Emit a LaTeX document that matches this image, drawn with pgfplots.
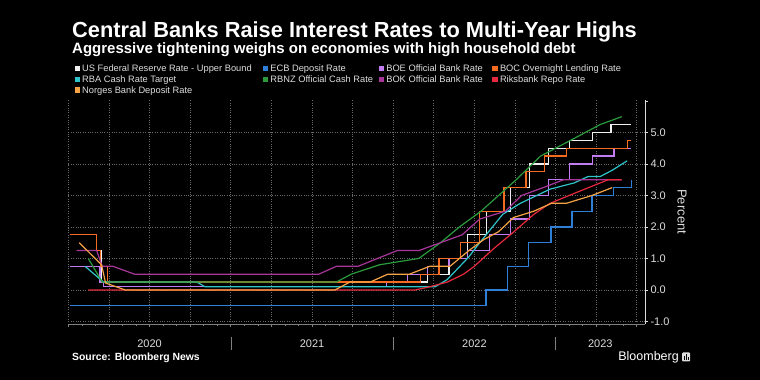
\documentclass[border=0pt]{standalone}
\usepackage{pgfplots}
\pgfplotsset{compat=1.18}
\usepackage{fontspec}
\setmainfont{Liberation Sans}
\definecolor{cfed}{HTML}{F0F0F0}
\definecolor{cecb}{HTML}{2F7ED8}
\definecolor{cboe}{HTML}{C07CF0}
\definecolor{cboc}{HTML}{F26B21}
\definecolor{crba}{HTML}{2EC4C9}
\definecolor{crbnz}{HTML}{2A9A3C}
\definecolor{cbok}{HTML}{A8369A}
\definecolor{crik}{HTML}{E8283C}
\definecolor{cnor}{HTML}{F5A445}
\definecolor{gridc}{HTML}{6A6A6A}
\definecolor{txt}{HTML}{DDDDDD}
\begin{document}
\begin{tikzpicture}[x=1pt,y=1pt]
\fill[black] (0,0) rectangle (760,380);
% titles
\node[anchor=base west, inner sep=0, text=white, font=\fontsize{21.8}{24}\selectfont\bfseries] at (72,342) {Central Banks Raise Interest Rates to Multi-Year Highs};
\node[anchor=base west, inner sep=0, text=white, font=\fontsize{15}{17}\selectfont\bfseries] at (72,326.8) {Aggressive tightening weighs on economies with high household debt};
% legend
\def\legrow#1#2#3#4{%
  \fill[#3] (#1,#2-2.65+3.3) rectangle ++(5.3,5.3);
  \node[anchor=base west, inner sep=0, text=txt, font=\fontsize{9.3}{11}\selectfont] at (#1+7.5,#2) {#4};}
\legrow{74.5}{308.2}{cfed}{US Federal Reserve Rate - Upper Bound}
\legrow{262.7}{308.2}{cecb}{ECB Deposit Rate}
\legrow{378.6}{308.2}{cboe}{BOE Official Bank Rate}
\legrow{492.3}{308.2}{cboc}{BOC Overnight Lending Rate}
\legrow{74.5}{297.5}{crba}{RBA Cash Rate Target}
\legrow{262.7}{297.5}{crbnz}{RBNZ Official Cash Rate}
\legrow{378.6}{297.5}{cbok}{BOK Official Bank Rate}
\legrow{492.3}{297.5}{crik}{Riksbank Repo Rate}
\legrow{74.5}{286.8}{cnor}{Norges Bank Deposit Rate}
\begin{axis}[
  at={(68.4pt,56pt)}, anchor=south west,
  scale only axis, width=576.6pt, height=224pt,
  xmin=0, xmax=42.62, ymin=-1.08, ymax=6.03,
  axis x line*=bottom, axis y line*=right,
  x axis line style={color=gray, line width=0.7pt, -},
  y axis line style={color=txt, line width=0.7pt, -},
  xtick={0,3,...,42}, minor xtick={0,1,...,42}, xticklabels={},
  ytick={-1,0,...,5}, yticklabels={-1.0,0.0,1.0,2.0,3.0,4.0,5.0},
  extra y ticks={6}, extra y tick labels={}, extra tick style={grid=none},
  tick align=outside, major tick length=3pt, minor tick length=2.5pt,
  xtick style={color=gray, line width=0.6pt},
  minor x tick style={color=gray, line width=0.6pt},
  ytick style={color=txt, line width=0.6pt},
  yticklabel style={font=\fontsize{11}{13}\selectfont, text=txt, xshift=-1pt},
  xmajorgrids, ymajorgrids,
  major grid style={gridc, dotted, line width=0.6pt},
  no markers,
  every axis plot/.append style={line width=1.2pt},
]
\addplot[color=cfed] coordinates {(0.1,1.75)(2.07,1.75)(2.07,1.25)(2.47,1.25)(2.47,0.25)(26.53,0.25)(26.53,0.5)(28.13,0.5)(28.13,1)(29.5,1)(29.5,1.75)(30.9,1.75)(30.9,2.5)(32.7,2.5)(32.7,3.25)(34.07,3.25)(34.07,4)(35.47,4)(35.47,4.5)(37.03,4.5)(37.03,4.75)(38.73,4.75)(38.73,5)(40.1,5)(40.1,5.25)(41.6,5.25)};
\addplot[color=cecb] coordinates {(0.1,-0.5)(30.87,-0.5)(30.87,0)(32.43,0)(32.43,0.75)(34.03,0.75)(34.03,1.5)(35.67,1.5)(35.67,2)(37.23,2)(37.23,2.5)(38.7,2.5)(38.7,3)(40.3,3)(40.3,3.25)(41.62,3.25)(41.62,3.5)};
\addplot[color=cboe] coordinates {(0.1,0.75)(2.33,0.75)(2.33,0.25)(2.6,0.25)(2.6,0.1)(23.5,0.1)(23.5,0.25)(25.07,0.25)(25.07,0.5)(26.53,0.5)(26.53,0.75)(28.13,0.75)(28.13,1)(29.5,1)(29.5,1.25)(31.1,1.25)(31.1,1.75)(32.7,1.75)(32.7,2.25)(34.07,2.25)(34.07,3)(35.47,3)(35.47,3.5)(37.03,3.5)(37.03,4)(38.73,4)(38.73,4.25)(40.33,4.25)(40.33,4.5)(41.6,4.5)};
\addplot[color=cboc] coordinates {(0.1,1.75)(2.1,1.75)(2.1,1.25)(2.4,1.25)(2.4,0.75)(2.87,0.75)(2.87,0.25)(26.03,0.25)(26.03,0.5)(27.4,0.5)(27.4,1)(29,1)(29,1.5)(30.4,1.5)(30.4,2.5)(32.2,2.5)(32.2,3.25)(33.83,3.25)(33.83,3.75)(35.2,3.75)(35.2,4.25)(36.8,4.25)(36.8,4.5)(41.3,4.5)(41.3,4.75)(41.6,4.75)};
\addplot[color=crba] coordinates {(1.23,0.75)(2.6,0.25)(9.5,0.25)(10.1,0.1)(27.1,0.1)(28,0.33)(29.6,1.05)(30.4,1.5)(32.1,2.4)(33.4,2.75)(35.6,3.2)(37.4,3.4)(38.4,3.6)(39.3,3.6)(40.2,3.8)(41.3,4.1)};
\addplot[color=crbnz] coordinates {(1.47,1)(2.5,0.25)(19.8,0.25)(20.9,0.5)(23,0.8)(25.9,1)(27.5,1.5)(28.9,2)(30.5,2.5)(31.8,3)(33.1,3.5)(34.9,4.25)(36.9,4.7)(39.3,5.25)(40.9,5.5)};
\addplot[color=cbok] coordinates {(0.61,1.25)(2.09,1.25)(2.5,0.75)(3.3,0.75)(4.9,0.5)(18.5,0.5)(19.8,0.75)(21.4,0.75)(24.3,1.25)(25.9,1.25)(27.5,1.5)(29.1,1.75)(30.4,2.25)(32.3,2.5)(33.5,3)(35.1,3.25)(36.6,3.5)(40.9,3.5)};
\addplot[color=crik] coordinates {(1.47,0)(25.6,0)(26.5,0.08)(28,0.25)(29.2,0.5)(30,0.75)(31.4,1.3)(32.8,1.8)(34.4,2.4)(35.6,2.75)(37.3,3.05)(39.9,3.5)(40.9,3.5)};
\addplot[color=cnor] coordinates {(0.8,1.5)(2.45,0.8)(2.75,0.22)(4.2,0)(19.7,0)(20.8,0.25)(22.3,0.25)(23.6,0.5)(25.2,0.5)(26.7,0.75)(28.2,0.75)(29.6,1.25)(30.7,1.6)(31.8,1.85)(32.9,2.3)(34.4,2.5)(35.7,2.75)(36.8,2.75)(38.7,3)(40.2,3.25)};
\end{axis}
% Percent label
\node[rotate=-90, text=txt, font=\fontsize{13}{15}\selectfont] at (682,168.3) {Percent};
% year separators and labels
\foreach \xx in {230.8,393.2,555.6} {\draw[gray, line width=0.6pt] (\xx,30) -- (\xx,43);}
\foreach \xx/\yy in {149.6/2020,312/2021,474.4/2022,600.3/2023} {\node[text=txt, font=\fontsize{11}{13}\selectfont] at (\xx,36.5) {\yy};}
% source
\node[anchor=base west, inner sep=0, text=white, font=\fontsize{10.4}{12}\selectfont\bfseries] at (72,19.3) {Source: Bloomberg News};
\node[anchor=base east, inner sep=0, text=white, font=\fontsize{12.5}{14}\selectfont] at (679,19.3) {Bloomberg};
\fill[txt, rounded corners=1pt] (682,18.5) rectangle (690,27.5);
\fill[black] (683.6,20) rectangle (684.8,24);
\fill[black] (685.6,20) rectangle (686.8,26);
\fill[black] (687.6,20) rectangle (688.6,23);
\end{tikzpicture}
\end{document}
